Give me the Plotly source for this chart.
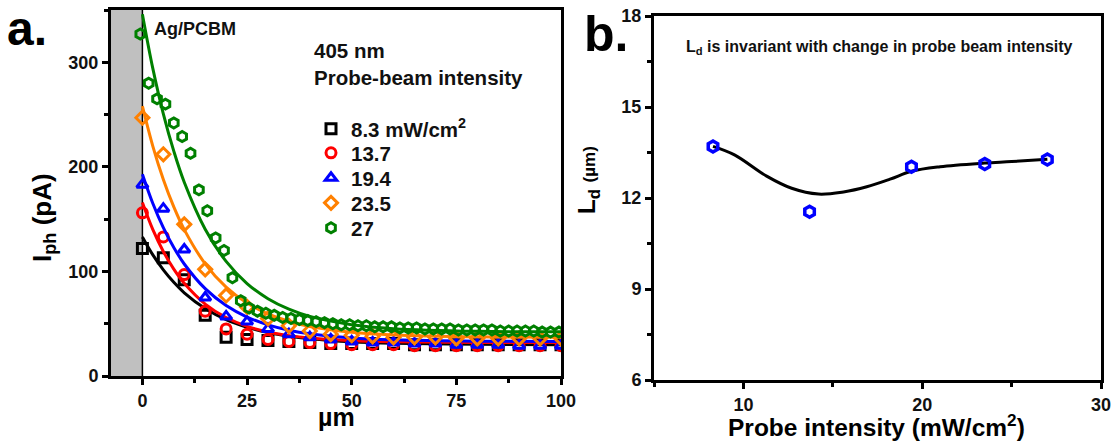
import plotly.graph_objects as go

# ---------------- Panel a data ----------------
x_pts = [0, 5, 10, 15, 20, 25, 30, 35, 40, 45, 50, 55, 60, 65, 70, 75, 80, 85, 90, 95, 100]
i_83 = [122, 113, 92, 58, 37, 35, 34, 33, 32, 31, 31, 31, 31, 30, 30, 30, 30, 30, 30, 30, 30]
i_137 = [156, 133, 97, 62, 45, 40, 35, 33, 32, 31, 30, 30, 30, 29, 29, 29, 29, 29, 29, 29, 29]
i_194 = [183, 160, 121, 75, 57, 52, 45, 40, 37, 35, 33, 32, 32, 31, 31, 30, 30, 30, 29, 29, 29]
i_235 = [247, 212, 145, 102, 77, 66, 55, 48, 43, 40, 39, 38, 37, 37, 37, 36, 36, 36, 36, 36, 36]

x_green = [-0.5, 1.5, 3.5, 5.5, 7.5, 9.5, 11.5, 13.5, 15.5, 17.5, 19.5, 21.5, 23.5, 25.5,
           27.5, 29.5, 31.5, 33.5, 35.5, 37.5, 39.5, 41.5, 43.5, 45.5, 47.5, 49.5, 51.5,
           53.5, 55.5, 57.5, 59.5, 61.5, 63.5, 65.5, 67.5, 69.5, 71.5, 73.5, 75.5, 77.5,
           79.5, 81.5, 83.5, 85.5, 87.5, 89.5, 91.5, 93.5, 95.5, 97.5, 99.5]
i_27 = [327, 280, 265, 260, 242, 229, 213, 178, 158, 132, 120, 94, 72, 65,
        62, 60, 58, 56, 55, 54, 53, 52, 51, 50, 49, 49, 48,
        48, 47, 47, 47, 46, 46, 46, 45, 45, 45, 45, 44, 44,
        44, 44, 44, 43, 43, 43, 43, 43, 42, 42, 42]

# fitted curves
x_fit = [0, 2.5, 5, 7.5, 10, 15, 20, 25, 30, 35, 40, 50, 60, 80, 100]
fit_83 = [133, 115.8, 101.5, 89.6, 79.6, 64.5, 53.9, 46.6, 41.5, 38.0, 35.6, 32.7, 31.3, 30.3, 30]
fit_137 = [166, 140, 119.1, 102.2, 88.6, 68.8, 55.9, 47.5, 42.1, 38.6, 36.3, 33.8, 32.8, 32.1, 32]
fit_194 = [193, 165, 141.9, 122.9, 107.1, 83.5, 67.4, 56.4, 48.9, 43.8, 40.4, 36.4, 34.6, 33.3, 33]
fit_235 = [258, 219.6, 187.9, 161.7, 140, 107.3, 85, 69.8, 59.4, 52.3, 47.4, 41.9, 39.3, 37.5, 37.1]
fit_27 = [346, 293.9, 250.7, 215, 185.3, 140.4, 109.6, 88.4, 73.9, 63.9, 57, 49.1, 45.3, 42.7, 42.2]

legend_names = ["8.3 mW/cm<sup>2</sup>", "13.7", "19.4", "23.5", "27"]
colors = ["#000000", "#FF0000", "#0000FF", "#FF8000", "#008000"]
symbols = ["square-open", "circle-open", "triangle-up-open", "diamond-open", "hexagon-open"]

# ---------------- Panel b data ----------------
probe_int = [8.3, 13.7, 19.4, 23.5, 27]
ld_vals = [13.7, 11.55, 13.03, 13.12, 13.27]
curve_x = [8.3, 9.5, 11.3, 12.7, 14.2, 15.6, 16.9, 18.2, 19.4, 21.0, 23.5, 25.0, 27.0]
curve_y = [13.70, 13.42, 12.72, 12.32, 12.13, 12.20, 12.37, 12.62, 12.88, 13.03, 13.15, 13.2, 13.28]

FONT = "Liberation Sans, Arial, sans-serif"
W, H = 1115, 448


def px(xp):
    return xp / W


def py(yp):
    return 1 - yp / H


fig = go.Figure()

series = [
    (x_pts, i_83, fit_83),
    (x_pts, i_137, fit_137),
    (x_pts, i_194, fit_194),
    (x_pts, i_235, fit_235),
    (x_green, i_27, fit_27),
]
legend_ids = ["legend", "legend2", "legend3", "legend4", "legend5"]
legend_rows = [129, 153, 178, 203, 228]

for k, (xs, ys, fy) in enumerate(series):
    fig.add_trace(go.Scatter(
        x=xs, y=ys, mode="markers", name=legend_names[k], legend=legend_ids[k],
        marker=dict(symbol=symbols[k], size=10, color=colors[k],
                    line=dict(width=3, color=colors[k])),
        xaxis="x", yaxis="y", showlegend=True))
    fig.add_trace(go.Scatter(
        x=x_fit, y=fy, mode="lines", line=dict(color=colors[k], width=3, shape="spline"),
        xaxis="x", yaxis="y", showlegend=False, hoverinfo="skip"))

fig.add_trace(go.Scatter(
    x=curve_x, y=curve_y, mode="lines", line=dict(color="black", width=3, shape="spline"),
    xaxis="x2", yaxis="y2", showlegend=False))
fig.add_trace(go.Scatter(
    x=probe_int, y=ld_vals, mode="markers",
    marker=dict(symbol="hexagon-open", size=11, color="#0000FF",
                line=dict(width=3.5, color="#0000FF")),
    xaxis="x2", yaxis="y2", showlegend=False))

ax_common = dict(showline=True, linewidth=3, linecolor="black", mirror=True,
                 ticks="outside", ticklen=6, tickwidth=2.5, tickcolor="black",
                 showgrid=False, zeroline=False, automargin=False,
                 tickfont=dict(family=FONT, size=18, color="#111", weight="bold"))

legend_layout = {}
for k, lid in enumerate(legend_ids):
    legend_layout[lid] = dict(
        x=px(311), y=py(legend_rows[k]), xanchor="left", yanchor="middle",
        bgcolor="rgba(0,0,0,0)", borderwidth=0,
        font=dict(family=FONT, size=20.5, color="#111", weight="bold"))

fig.update_layout(
    width=W, height=H,
    margin=dict(l=0, r=0, t=0, b=0, pad=0, autoexpand=False),
    paper_bgcolor="white", plot_bgcolor="white",
    font=dict(family=FONT, color="black", weight="bold"),
    xaxis=dict(domain=[px(111), px(561)], range=[-7.5, 100], tick0=0, dtick=25,
               minor=dict(dtick=12.5, tick0=0, ticklen=4, tickwidth=2.5, ticks="outside",
                          tickcolor="black"),
               anchor="y", **ax_common),
    yaxis=dict(domain=[py(376), py(10)], range=[0, 350], tick0=0, dtick=100,
               minor=dict(dtick=50, tick0=0, ticklen=4, tickwidth=2.5, ticks="outside",
                          tickcolor="black"),
               anchor="x", **ax_common),
    xaxis2=dict(domain=[px(654), px(1101)], range=[5, 30], tick0=0, dtick=10,
                minor=dict(dtick=5, tick0=0, ticklen=4, tickwidth=2.5, ticks="outside",
                           tickcolor="black"),
                anchor="y2", **ax_common),
    yaxis2=dict(domain=[py(380), py(16)], range=[6, 18], tick0=6, dtick=3,
                minor=dict(dtick=1.5, tick0=6, ticklen=4, tickwidth=2.5, ticks="outside",
                           tickcolor="black"),
                anchor="x2", **ax_common),
    shapes=[
        dict(type="rect", xref="x", yref="y", x0=-7.5, x1=0, y0=0, y1=350,
             fillcolor="#C0C0C0", line=dict(width=0), layer="below"),
        dict(type="line", xref="x", yref="y", x0=0, x1=0, y0=0, y1=350,
             line=dict(color="black", width=1.5), layer="below"),
    ],
    annotations=[
        dict(text="a.", x=px(5), y=py(28), xref="paper", yref="paper", xanchor="left",
             yanchor="middle", showarrow=False, font=dict(family=FONT, size=48, weight="bold")),
        dict(text="b.", x=px(582), y=py(34), xref="paper", yref="paper", xanchor="left",
             yanchor="middle", showarrow=False, font=dict(family=FONT, size=50, weight="bold")),
        dict(text="Ag/PCBM", x=px(152), y=py(29), xref="paper", yref="paper", xanchor="left",
             yanchor="middle", showarrow=False, font=dict(family=FONT, size=18, color="#111", weight="bold")),
        dict(text="405 nm", x=px(312), y=py(51), xref="paper", yref="paper", xanchor="left",
             yanchor="middle", showarrow=False, font=dict(family=FONT, size=20.5, color="#111", weight="bold")),
        dict(text="Probe-beam intensity", x=px(312), y=py(77), xref="paper", yref="paper", xanchor="left",
             yanchor="middle", showarrow=False, font=dict(family=FONT, size=20.5, color="#111", weight="bold")),
        dict(text="I<sub>ph</sub> (pA)", x=px(44), y=py(218), xref="paper", yref="paper",
             xanchor="center", yanchor="middle",
             textangle=-90, showarrow=False, font=dict(family=FONT, size=26, weight="bold")),
        dict(text="µm", x=px(336), y=py(417), xref="paper", yref="paper",
             xanchor="center", yanchor="middle",
             showarrow=False, font=dict(family=FONT, size=25, weight="bold")),
        dict(text="L<sub>d</sub> is invariant with change in probe beam intensity", x=px(880), y=py(47),
             xref="paper", yref="paper", xanchor="center", yanchor="middle", showarrow=False,
             font=dict(family=FONT, size=16, color="#111", weight="bold")),
        dict(text="L<sub>d</sub> <span style='font-size:17px'>(µm)</span>", x=px(588), y=py(180),
             xref="paper", yref="paper", xanchor="center", yanchor="middle",
             textangle=-90, showarrow=False,
             font=dict(family=FONT, size=24, weight="bold")),
        dict(text="Probe intensity (mW/cm<sup>2</sup>)", x=px(876), y=py(425), xref="paper", yref="paper",
             xanchor="center", yanchor="middle",
             showarrow=False, font=dict(family=FONT, size=24.5, weight="bold")),
    ],
    **legend_layout,
)

fig.write_html("out.html", config={"displayModeBar": False},
               post_script="document.body.style.margin='0px';document.body.style.overflow='hidden';")
